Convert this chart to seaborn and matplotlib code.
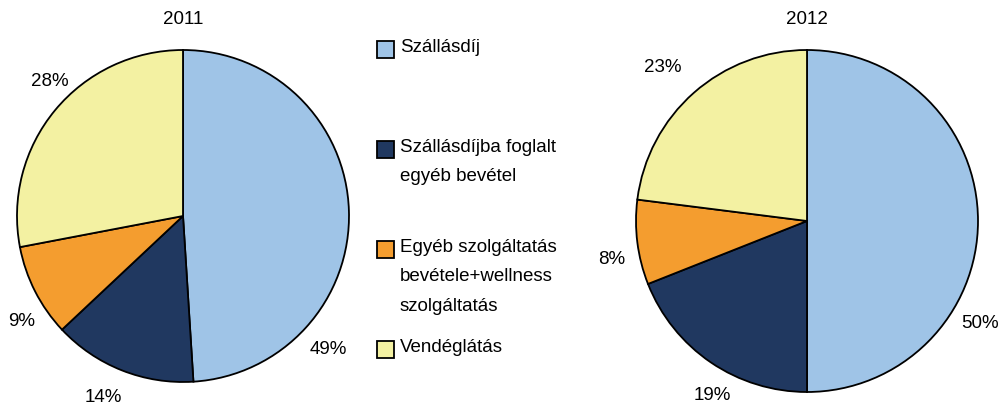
import matplotlib
matplotlib.use("Agg")
import matplotlib.pyplot as plt
from matplotlib.patches import Rectangle
import seaborn as sns

# Adatok
kategoriak = [
    "Szállásdíj",
    "Szállásdíjba foglalt\negyéb bevétel",
    "Egyéb szolgáltatás\nbevétele+wellness\nszolgáltatás",
    "Vendéglátás",
]
ertekek_2011 = [49, 14, 9, 28]
ertekek_2012 = [50, 19, 8, 23]
evek = ["2011", "2012"]

sns.set_theme(style="white")
plt.rcParams["font.family"] = ["Liberation Sans", "DejaVu Sans"]
plt.rcParams["text.color"] = "black"
szinek = sns.color_palette(["#9FC4E7", "#203860", "#F49D2F", "#F3F1A2"])

W, H = 1002, 407
fig = plt.figure(figsize=(W / 100, H / 100), dpi=100)


def px(x, y):
    return x / W, 1 - y / H


def kor(cx, cy, r, ertekek, cim, cim_y, cimke_pos):
    ax = fig.add_axes([(cx - r) / W, (H - cy - r) / H, 2 * r / W, 2 * r / H])
    ax.pie(ertekek, colors=szinek, startangle=90, counterclock=False,
           wedgeprops=dict(edgecolor="black", linewidth=1.3))
    ax.set_aspect("auto")
    ax.set_xlim(-1.0, 1.0)
    ax.set_ylim(-1.0, 1.0)
    ax.axis("off")
    fig.text(*px(cx, cim_y), cim, ha="center", va="center", fontsize=13.5)
    for v, (x, y) in zip(ertekek, cimke_pos):
        fig.text(*px(x, y), f"{v}%", ha="center", va="center", fontsize=13.5)


kor(183, 216, 166, ertekek_2011, evek[0], 19,
    [(328, 350), (103, 398), (22, 322), (50, 82)])
kor(807, 221, 171, ertekek_2012, evek[1], 20,
    [(980, 323), (712, 396), (612, 260), (663, 67)])

# Jelmagyarázat
jel_y = [50, 150, 250, 350]
for szin, szoveg, y in zip(szinek, kategoriak, jel_y):
    x0, y0 = px(377, y + 8)
    fig.patches.append(Rectangle((x0, y0), 17 / W, 17 / H, transform=fig.transFigure,
                                 facecolor=szin, edgecolor="black", linewidth=1.3))
    fig.text(*px(400, y - 11), szoveg, ha="left", va="top", fontsize=13.5,
             linespacing=1.95)

fig.savefig("out.png", dpi=100)
